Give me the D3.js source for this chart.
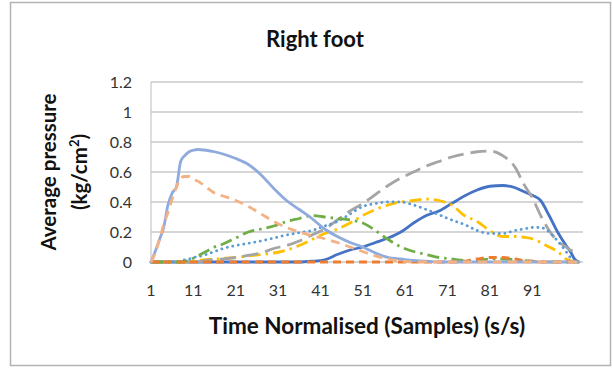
<!DOCTYPE html>
<html>
<head>
<meta charset="utf-8">
<script src="https://cdn.jsdelivr.net/npm/d3@7"></script>
<style>
  body { margin: 0; background: #fff; }
  svg { display: block; font-family: Lato, "Open Sans", sans-serif; }
</style>
</head>
<body>
<div id="chart"></div>
<script>
// sample index (time normalised) where values were read
const samples = [1,2,3,4,5,6,7,8,9,10,11,12,14,16,18,21,24,27,30,33,36,39,42,45,48,51,54,57,60,63,66,69,72,75,78,81,84,87,89,91,93,95,97,99,100,101,102];

// average pressure, kg/cm2, one list per sensor
const lightBlue = [0,0.07,0.15,0.23,0.38,0.46,0.5,0.67,0.71,0.735,0.745,0.75,0.745,0.735,0.72,0.69,0.65,0.58,0.49,0.41,0.35,0.29,0.22,0.17,0.13,0.1,0.06,0.03,0.02,0.01,0.005,0,0,0,0,0,0,0,0,0,0,0,0,0,0,0,0];
const salmon = [0,0.06,0.15,0.25,0.33,0.42,0.5,0.56,0.57,0.57,0.55,0.54,0.5,0.46,0.44,0.41,0.37,0.32,0.27,0.23,0.2,0.175,0.155,0.13,0.1,0.07,0.04,0.02,0.005,0,0,0,0,0,0,0,0,0,0,0,0,0,0,0,0,0,0];
const green = [0,0,0,0,0,0,0,0,0.005,0.015,0.025,0.04,0.07,0.1,0.12,0.16,0.2,0.22,0.24,0.27,0.29,0.31,0.3,0.29,0.28,0.26,0.21,0.15,0.1,0.07,0.05,0.03,0.02,0.01,0.01,0.02,0.02,0.015,0.01,0.005,0,0,0,0,0,0,0];
const blueDot = [0,0,0,0,0,0,0,0.005,0.015,0.02,0.03,0.035,0.05,0.07,0.09,0.11,0.125,0.14,0.16,0.18,0.195,0.21,0.24,0.27,0.32,0.37,0.39,0.4,0.4,0.38,0.35,0.315,0.28,0.25,0.21,0.19,0.19,0.21,0.22,0.23,0.23,0.2,0.14,0.07,0.03,0.005,0];
const grey = [0,0,0,0,0,0,0,0,0,0,0,0,0.01,0.015,0.02,0.03,0.045,0.06,0.09,0.11,0.14,0.18,0.22,0.28,0.34,0.39,0.45,0.51,0.56,0.6,0.64,0.67,0.7,0.72,0.735,0.74,0.71,0.63,0.52,0.43,0.31,0.21,0.14,0.1,0.08,0.07,0.05];
const gold = [0,0,0,0,0,0,0,0,0,0,0.005,0.01,0.015,0.02,0.025,0.03,0.04,0.05,0.06,0.08,0.11,0.15,0.19,0.22,0.26,0.31,0.35,0.38,0.4,0.41,0.42,0.41,0.38,0.31,0.27,0.21,0.17,0.17,0.165,0.155,0.13,0.1,0.07,0.02,0.01,0,0];
const darkBlue = [0,0,0,0,0,0,0,0,0,0,0,0,0,0,0,0,0,0,0,0,0,0.005,0.015,0.05,0.08,0.1,0.13,0.16,0.2,0.26,0.31,0.34,0.39,0.44,0.48,0.505,0.51,0.495,0.47,0.445,0.41,0.31,0.2,0.11,0.07,0.02,0];
const orange = [0,0,0,0,0,0,0,0,0,0,0,0,0,0,0,0,0,0,0,0,0,0,0,0,0,0,0,0,0,0,0,0,0,0.005,0.02,0.03,0.03,0.02,0.01,0.005,0,0,0,0,0,0,0];

const yTicks = [0, 0.2, 0.4, 0.6, 0.8, 1, 1.2];
const xTicks = [1, 11, 21, 31, 41, 51, 61, 71, 81, 91];

// drawing order, bottom first
const series = [
  { values: darkBlue, color: "#4472c4", dash: null, cap: "round" },
  { values: gold, color: "#ffc000", dash: "12,5,2.5,5", cap: "butt" },
  { values: grey, color: "#a5a5a5", dash: "16,7", cap: "butt" },
  { values: blueDot, color: "#5b9bd5", dash: "0.1,5.5", cap: "round" },
  { values: green, color: "#70ad47", dash: "12,5,2.5,5", cap: "butt" },
  { values: orange, color: "#ed7d31", dash: "8,5", cap: "butt" },
  { values: lightBlue, color: "#8faadc", dash: null, cap: "round" },
  { values: salmon, color: "#f4b183", dash: "9,6", cap: "butt" }
];

const W = 613, H = 368;
const margin = { top: 82, right: 30, bottom: 106, left: 151 };

const svg = d3.select("#chart").append("svg")
  .attr("width", W)
  .attr("height", H);

svg.append("rect")
  .attr("x", 10.5).attr("y", 2.5)
  .attr("width", 600).attr("height", 363)
  .attr("fill", "#fff")
  .attr("stroke", "#b3b3b3")
  .attr("stroke-width", 1.5);

const x = d3.scaleLinear().domain([1, 103]).range([margin.left, W - margin.right]);
const y = d3.scaleLinear().domain([0, 1.2]).range([H - margin.bottom, margin.top]);

// gridlines
svg.append("g")
  .selectAll("line")
  .data(yTicks)
  .join("line")
  .attr("x1", x(1)).attr("x2", x(103))
  .attr("y1", d => y(d)).attr("y2", d => y(d))
  .attr("stroke", "#c8c8c8")
  .attr("stroke-width", 1.5);

svg.append("line")
  .attr("x1", x(1)).attr("x2", x(1))
  .attr("y1", y(0)).attr("y2", y(1.2))
  .attr("stroke", "#c8c8c8")
  .attr("stroke-width", 1.2);

// y tick labels
svg.append("g")
  .selectAll("text")
  .data(yTicks)
  .join("text")
  .attr("x", 132)
  .attr("y", d => y(d))
  .attr("dy", "0.36em")
  .attr("text-anchor", "end")
  .attr("font-size", 16)
  .attr("fill", "#333")
  .text(d => d3.format("~g")(d));

// x tick labels
svg.append("g")
  .selectAll("text")
  .data(xTicks)
  .join("text")
  .attr("x", d => x(d))
  .attr("y", 296)
  .attr("text-anchor", "middle")
  .attr("font-size", 16)
  .attr("fill", "#333")
  .text(d => d);

// lines
const line = d3.line()
  .x((d, i) => x(samples[i]))
  .y(d => y(d))
  .curve(d3.curveMonotoneX);

svg.append("g")
  .selectAll("path")
  .data(series)
  .join("path")
  .attr("d", d => line(d.values))
  .attr("fill", "none")
  .attr("stroke", d => d.color)
  .attr("stroke-width", 2.8)
  .attr("stroke-linecap", d => d.cap)
  .attr("stroke-linejoin", "round")
  .attr("stroke-dasharray", d => d.dash);

// titles
svg.append("text")
  .attr("x", 315).attr("y", 47)
  .attr("text-anchor", "middle")
  .attr("font-size", 22)
  .attr("font-weight", "bold")
  .attr("fill", "#111")
  .text("Right foot");

svg.append("text")
  .attr("x", (x(1) + x(103)) / 2).attr("y", 334)
  .attr("text-anchor", "middle")
  .attr("font-size", 22.5)
  .attr("font-weight", "bold")
  .attr("fill", "#111")
  .text("Time Normalised (Samples) (s/s)");

const yLab = svg.append("text")
  .attr("transform", "translate(56,172) rotate(-90)")
  .attr("text-anchor", "middle")
  .attr("font-size", 20.5)
  .attr("font-weight", "bold")
  .attr("fill", "#111");
yLab.append("tspan").attr("x", 0).attr("y", 0).text("Average pressure");
const l2 = yLab.append("tspan").attr("x", 0).attr("y", 31);
l2.append("tspan").text("(kg/cm");
l2.append("tspan").attr("font-size", 13).attr("baseline-shift", "super").text("2");
l2.append("tspan").text(")");
</script>
</body>
</html>
